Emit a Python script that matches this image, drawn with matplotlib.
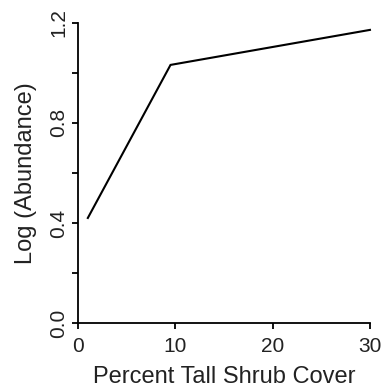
import matplotlib
matplotlib.use('Agg')
import matplotlib.pyplot as plt

# Piecewise fit
cover = [1, 9.5, 30]
log_abund = [0.42, 1.032, 1.172]

x_ticks = [0, 10, 20, 30]
y_ticks = [0.0, 0.2, 0.4, 0.6, 0.8, 1.0, 1.2]
y_labels = ['0.0', '', '0.4', '', '0.8', '', '1.2']

plt.rcParams['font.family'] = ['Liberation Sans', 'DejaVu Sans']

fig = plt.figure(figsize=(3.81, 3.88), dpi=100)
ax = fig.add_axes([0.205, 0.1675, 0.766, 0.7735])

ax.plot(cover, log_abund, color='black', lw=1.5, clip_on=False,
        solid_joinstyle='miter')

ax.set_xlim(0, 30)
ax.set_ylim(0, 1.2)
ax.set_xticks(x_ticks)
ax.set_xticklabels([str(t) for t in x_ticks], fontsize=15, color='#222222')
ax.set_yticks(y_ticks)
ax.set_yticklabels(y_labels, fontsize=15, rotation=90, va='center',
                   color='#222222')

ax.spines['top'].set_visible(False)
ax.spines['right'].set_visible(False)
for s in ['left', 'bottom']:
    ax.spines[s].set_linewidth(1.3)
ax.tick_params(direction='out', length=4, width=1.3)
ax.tick_params(axis='x', pad=6)
ax.tick_params(axis='y', pad=3)

ax.set_xlabel('Percent Tall Shrub Cover', fontsize=17, labelpad=7,
              color='#222222')
ax.set_ylabel('Log (Abundance)', fontsize=17, labelpad=9, color='#222222')

fig.savefig('out.png', dpi=100)
